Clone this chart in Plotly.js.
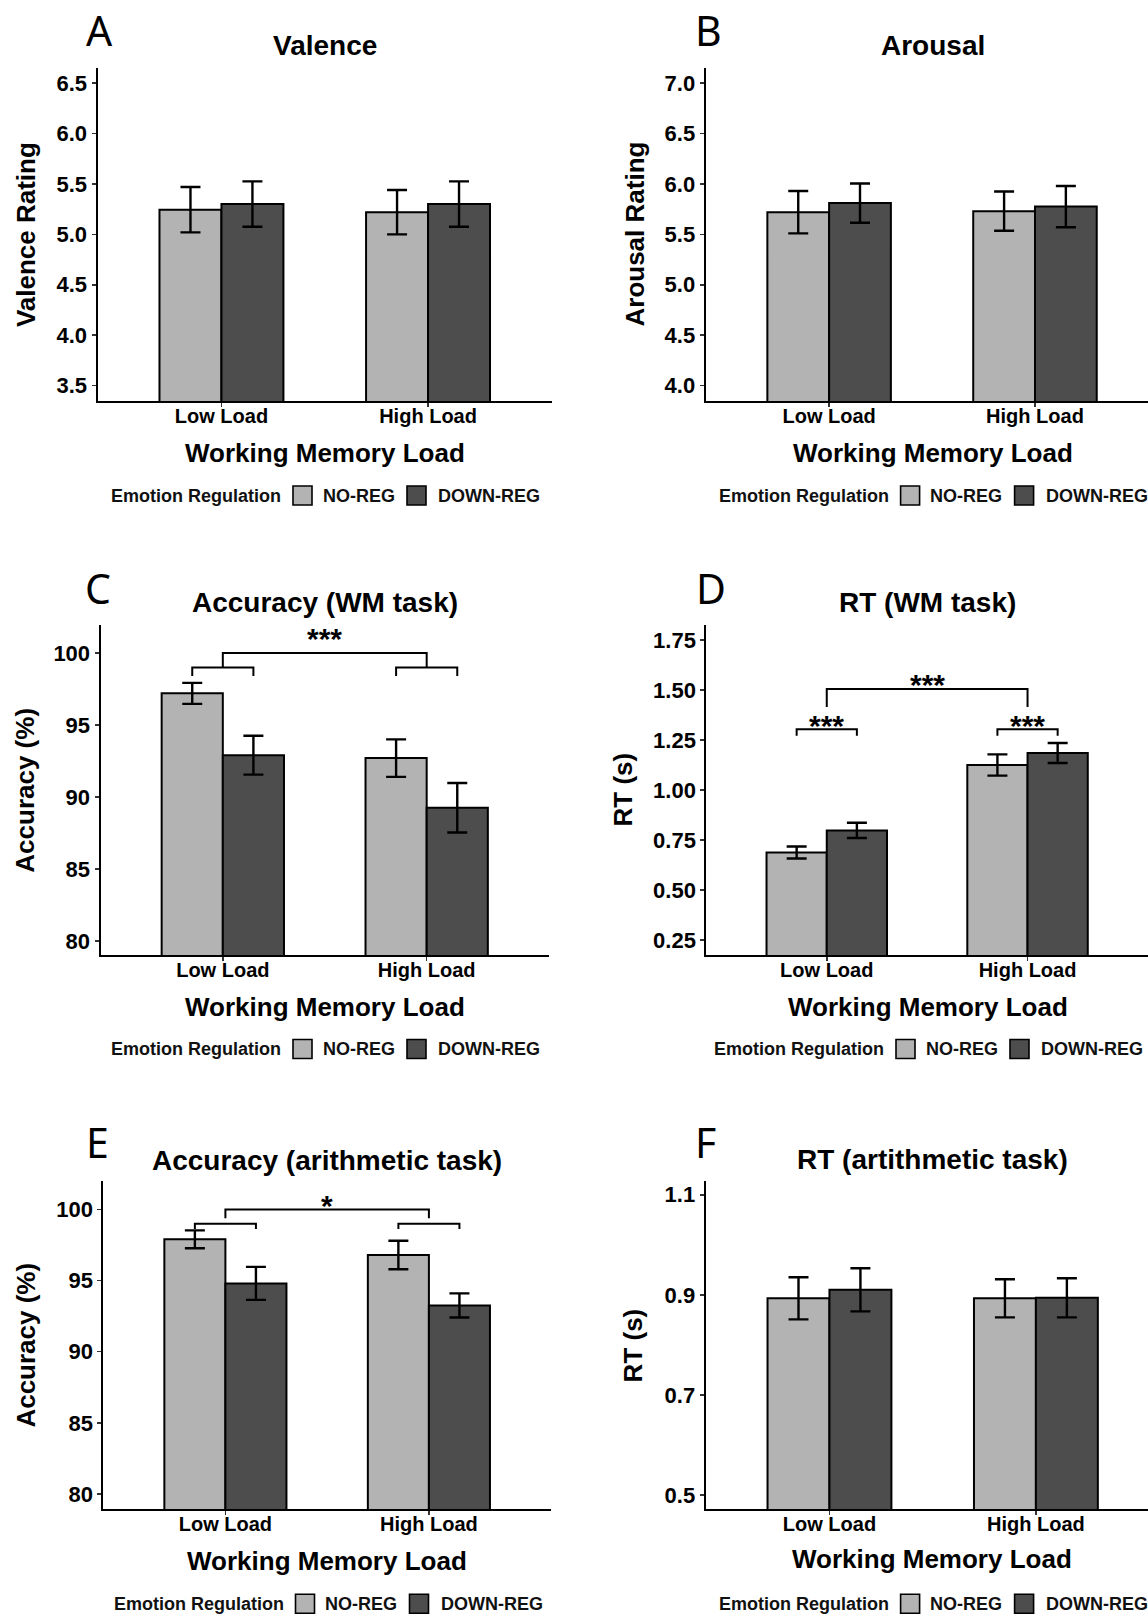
<!DOCTYPE html>
<html><head><meta charset="utf-8">
<script src="https://cdn.plot.ly/plotly-3.0.1.min.js"></script>
<style>html,body{margin:0;padding:0;background:#fff;} #chart{width:1148px;height:1617px;}</style>
</head><body><div id="chart"></div>
<script>
// ---------- data ----------
const categories = ['Low Load', 'High Load'];
const groups = ['NO-REG', 'DOWN-REG'];

const valenceNoReg = [5.245, 5.22];
const valenceNoRegSE = [0.225, 0.22];
const valenceDownReg = [5.30, 5.30];
const valenceDownRegSE = [0.225, 0.225];

const arousalNoReg = [5.72, 5.73];
const arousalNoRegSE = [0.21, 0.195];
const arousalDownReg = [5.81, 5.775];
const arousalDownRegSE = [0.195, 0.205];

const accWMNoReg = [97.2, 92.7];
const accWMNoRegSE = [0.73, 1.3];
const accWMDownReg = [92.9, 89.25];
const accWMDownRegSE = [1.35, 1.72];

const rtWMNoReg = [0.688, 1.125];
const rtWMNoRegSE = [0.03, 0.053];
const rtWMDownReg = [0.798, 1.185];
const rtWMDownRegSE = [0.038, 0.05];

const accArNoReg = [97.9, 96.8];
const accArNoRegSE = [0.63, 1.0];
const accArDownReg = [94.8, 93.25];
const accArDownRegSE = [1.16, 0.85];

const rtArNoReg = [0.893, 0.893];
const rtArNoRegSE = [0.042, 0.038];
const rtArDownReg = [0.91, 0.894];
const rtArDownRegSE = [0.043, 0.039];

// significance brackets: [bar level, leg end]
const accWMWithinBracket = [99.0, 98.4];
const accWMBetweenBracket = [100.0, 99.0];
const accWMStars = ['', '***'];
const accWMStarY = [null, 101.33];

const rtWMWithinBracket = [1.304, 1.271];
const rtWMBetweenBracket = [1.505, 1.415];
const rtWMStars = ['***', '***'];
const rtWMStarY = [1.345, 1.552];

const accArWithinBracket = [99.0, 98.62];
const accArBetweenBracket = [100.0, 99.38];
const accArStars = ['', '*'];
const accArStarY = [null, 100.65];

const panelLetters = ['A', 'B', 'C', 'D', 'E', 'F'];
const panelTitles = ['Valence', 'Arousal', 'Accuracy (WM task)', 'RT (WM task)', 'Accuracy (arithmetic task)', 'RT (artithmetic task)'];
const yTitles = ['Valence Rating', 'Arousal Rating', 'Accuracy (%)', 'RT (s)', 'Accuracy (%)', 'RT (s)'];
const xTitle = 'Working Memory Load';
const legendTitle = 'Emotion Regulation';

// ---------- layout geometry (pixels) ----------
const W = 1148, H = 1617;
const FONT = 'Liberation Sans, Arial, Helvetica, sans-serif';
const LIGHT = '#b3b3b3', DARK = '#4d4d4d';
const BARGAP = 0.4;
const half = (1 - BARGAP) / 4; // offset of each bar centre from category centre

const px = v => v / W;
const py = v => 1 - v / H;

const panels = [
  {left: 97.5,  right: 552,  top: 68,   bottom: 401,  yr: [3.347, 6.65],   xr: [-0.6, 1.6],   t0: 3.5,  dt: 0.5,  fmt: '.1f',
   data: [valenceNoReg, valenceNoRegSE, valenceDownReg, valenceDownRegSE],
   cx: 325, titleY: 45.3, letterX: 84, letterY: 30, xtY: 453, ytX: 25.6, legX: 109, legY: 495.5},
  {left: 705.6, right: 1148, top: 68,   bottom: 401,  yr: [3.847, 7.15],   xr: [-0.6, 1.549], t0: 4.0,  dt: 0.5,  fmt: '.1f',
   data: [arousalNoReg, arousalNoRegSE, arousalDownReg, arousalDownRegSE],
   cx: 932.5, titleY: 45.3, letterX: 693, letterY: 30, xtY: 453, ytX: 634, legX: 716.6, legY: 495.5},
  {left: 100.5, right: 549,  top: 625,  bottom: 955,  yr: [79.02, 101.95], xr: [-0.6, 1.6],   t0: 80,   dt: 5,    fmt: 'd',
   data: [accWMNoReg, accWMNoRegSE, accWMDownReg, accWMDownRegSE],
   cx: 324.5, titleY: 602, letterX: 83, letterY: 588, xtY: 1007, ytX: 24.7, legX: 109, legY: 1049},
  {left: 706.3, right: 1148, top: 625,  bottom: 955,  yr: [0.1755, 1.8245], xr: [-0.6, 1.6],  t0: 0.25, dt: 0.25, fmt: '.2f',
   data: [rtWMNoReg, rtWMNoRegSE, rtWMDownReg, rtWMDownRegSE],
   cx: 927.5, titleY: 602, letterX: 694, letterY: 588, xtY: 1007, ytX: 622.5, legX: 712, legY: 1049},
  {left: 103.3, right: 551,  top: 1181, bottom: 1509, yr: [78.94, 102.0],  xr: [-0.6, 1.6],   t0: 80,   dt: 5,    fmt: 'd',
   data: [accArNoReg, accArNoRegSE, accArDownReg, accArDownRegSE],
   cx: 327, titleY: 1160, letterX: 84, letterY: 1141.7, xtY: 1561, ytX: 25.6, legX: 111.5, legY: 1603.8},
  {left: 705.6, right: 1148, top: 1181, bottom: 1509, yr: [0.472, 1.1275], xr: [-0.6, 1.543], t0: 0.5,  dt: 0.2,  fmt: '.1f',
   data: [rtArNoReg, rtArNoRegSE, rtArDownReg, rtArDownRegSE],
   cx: 932, titleY: 1159, letterX: 693, letterY: 1141.5, xtY: 1559, ytX: 633.4, legX: 716.6, legY: 1603.8}
];

const catPos = categories.map((c, i) => i);
const traces = [];
const layout = {
  width: W, height: H,
  margin: {l: 0, r: 0, t: 0, b: 0},
  paper_bgcolor: '#fff', plot_bgcolor: '#fff',
  barmode: 'group', bargap: BARGAP, bargroupgap: 0,
  showlegend: false,
  annotations: [], shapes: []
};

const ann = (o) => Object.assign({showarrow: false, xref: 'paper', yref: 'paper'}, o);
const tickFont = {family: FONT, size: 22, color: '#000', weight: 'bold'};

panels.forEach((p, k) => {
  const n = k + 1;
  const xa = n === 1 ? 'x' : 'x' + n;
  const ya = n === 1 ? 'y' : 'y' + n;
  const xKey = n === 1 ? 'xaxis' : 'xaxis' + n;
  const yKey = n === 1 ? 'yaxis' : 'yaxis' + n;
  const [m1, s1, m2, s2] = p.data;
  [[m1, s1, LIGHT, groups[0]], [m2, s2, DARK, groups[1]]].forEach(([m, s, col, name]) => {
    traces.push({
      type: 'bar', x: catPos, y: m, name: name, xaxis: xa, yaxis: ya,
      marker: {color: col, line: {color: '#000', width: 2}},
      error_y: {type: 'data', array: s, visible: true, color: '#000', thickness: 2.4, width: 10},
      hoverinfo: 'skip'
    });
  });
  layout[xKey] = {
    domain: [px(p.left), px(p.right)], anchor: ya, range: p.xr,
    tickvals: catPos, ticktext: categories,
    showline: true, linecolor: '#000', linewidth: 2,
    ticks: 'outside', ticklen: 4, tickwidth: 1.5, tickcolor: '#333',
    ticklabelstandoff: -8,
    showgrid: false, zeroline: false, fixedrange: true,
    tickfont: {family: FONT, size: 20, color: '#000', weight: 'bold'}
  };
  layout[yKey] = {
    domain: [py(p.bottom), py(p.top)], anchor: xa, range: p.yr,
    tick0: p.t0, dtick: p.dt, tickformat: p.fmt,
    showline: true, linecolor: '#000', linewidth: 2,
    ticks: 'outside', ticklen: 4, tickwidth: 1.5, tickcolor: '#333',
    showgrid: false, zeroline: false, fixedrange: true,
    tickfont: tickFont
  };

  // panel letter
  layout.annotations.push(ann({x: px(p.letterX), y: py(p.letterY), xanchor: 'left', yanchor: 'middle',
    text: panelLetters[k], font: {family: 'Noto Sans, sans-serif', size: 41, color: '#000'}}));
  // title
  layout.annotations.push(ann({x: px(p.cx), y: py(p.titleY), xanchor: 'center', yanchor: 'middle',
    text: panelTitles[k], font: {family: FONT, size: 28, color: '#000', weight: 'bold'}}));
  // x title
  layout.annotations.push(ann({x: px(p.cx), y: py(p.xtY), xanchor: 'center', yanchor: 'middle',
    text: xTitle, font: {family: FONT, size: 26, color: '#000', weight: 'bold'}}));
  // y title
  layout.annotations.push(ann({x: px(p.ytX), y: py((p.top + p.bottom) / 2), xanchor: 'center', yanchor: 'middle',
    textangle: -90, text: yTitles[k], font: {family: FONT, size: 26, color: '#000', weight: 'bold'}}));
  // legend
  const lf = {family: FONT, size: 18, color: '#111', weight: 'bold'};
  layout.annotations.push(ann({x: px(p.legX), y: py(p.legY), xanchor: 'left', yanchor: 'middle', text: legendTitle, font: lf}));
  layout.annotations.push(ann({x: px(p.legX + 211.7), y: py(p.legY), xanchor: 'left', yanchor: 'middle', text: groups[0], font: lf}));
  layout.annotations.push(ann({x: px(p.legX + 327), y: py(p.legY), xanchor: 'left', yanchor: 'middle', text: groups[1], font: lf}));
  [[184, LIGHT], [298, DARK]].forEach(([off, col]) => {
    layout.shapes.push({type: 'rect', xref: 'paper', yref: 'paper',
      x0: px(p.legX + off), x1: px(p.legX + off + 19), y0: py(p.legY + 9.5), y1: py(p.legY - 9.5),
      fillcolor: col, line: {color: '#000', width: 1.6}});
  });
});

// significance brackets
function bracket(xa, ya, x1, x2, level, leg) {
  layout.shapes.push({type: 'path', xref: xa, yref: ya,
    path: `M ${x1},${leg} L ${x1},${level} L ${x2},${level} L ${x2},${leg}`,
    line: {color: '#000', width: 2}});
}
function star(xa, ya, x, y, txt) {
  if (!txt) return;
  layout.annotations.push({showarrow: false, xref: xa, yref: ya, x: x, y: y, yshift: -5,
    xanchor: 'center', yanchor: 'middle', text: txt,
    font: {family: FONT, size: 30, color: '#000', weight: 'bold'}});
}
[[3, accWMWithinBracket, accWMBetweenBracket, accWMStars, accWMStarY],
 [4, rtWMWithinBracket, rtWMBetweenBracket, rtWMStars, rtWMStarY],
 [5, accArWithinBracket, accArBetweenBracket, accArStars, accArStarY]].forEach(([n, wb, bb, st, sy]) => {
  const xa = 'x' + n, ya = 'y' + n;
  catPos.forEach(c => {
    bracket(xa, ya, c - half, c + half, wb[0], wb[1]);
    star(xa, ya, c, sy[0], st[0]);
  });
  bracket(xa, ya, catPos[0], catPos[1], bb[0], bb[1]);
  star(xa, ya, (catPos[0] + catPos[1]) / 2, sy[1], st[1]);
});

Plotly.newPlot('chart', traces, layout, {displayModeBar: false, staticPlot: true});
</script>
</body></html>
